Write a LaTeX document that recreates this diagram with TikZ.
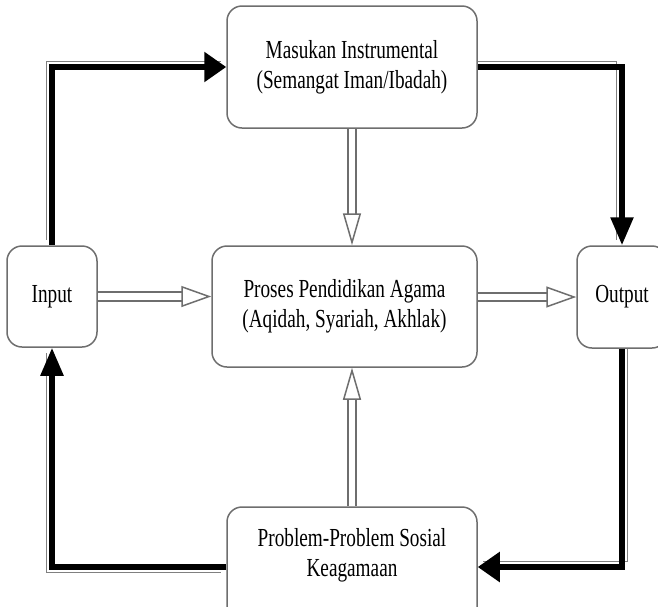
\documentclass[tikz,border=0pt]{standalone}
\usepackage{fontspec}
\newfontfamily\boxfont[FakeStretch=0.74]{Liberation Serif}
\usetikzlibrary{arrows.meta, backgrounds}
\definecolor{BoxGray}{HTML}{6E6E6E}
\tikzset{
    % Rounded stage box
    stage/.style={
        rectangle,
        rounded corners=15pt,
        draw=BoxGray,
        line width=1.5pt,
        fill=white,
        inner sep=0pt,
        align=center,
        font=\boxfont\fontsize{26}{30}\selectfont
    },
    % Hollow double arrow
    flow/.style={
        draw=BoxGray,
        line width=1.8pt,
        double=white,
        double distance=6.5pt,
        -{Triangle[fill=white, length=30pt, width=21pt, line width=1.5pt]}
    },
    flowv/.style={
        flow,
        -{Triangle[fill=white, length=32pt, width=18pt, line width=1.5pt]}
    },
    % Thick-thin feedback line
    feedback/.style={
        draw=black,
        line width=5.5pt,
        preaction={draw=gray, line width=1.2pt, arrows=-, transform canvas={shift={#1}}}
    },
    hhead/.style={-{Triangle[length=22pt, width=29pt]}},
    vhead/.style={-{Triangle[length=28pt, width=22pt]}}
}
\begin{document}
\begin{tikzpicture}[x=1pt, y=-1pt]
    \useasboundingbox (0,0) rectangle (658,606);
    \clip (0,0) rectangle (658,606);
    % Stages
    \node (masukan) [stage, minimum width=250pt, minimum height=122pt] at (352,67) {Masukan Instrumental\\(Semangat Iman/Ibadah)};
    \node (proses) [stage, minimum width=265pt, minimum height=121pt] at (344.5,306.5) {Proses Pendidikan Agama\\(Aqidah, Syariah, Akhlak)};
    \node (input) [stage, minimum width=90pt, minimum height=101pt] at (52,296.5) {Input};
    \node (output) [stage, minimum width=90pt, minimum height=102pt] at (622,297) {Output};
    \node (problem) [stage, minimum width=250pt, minimum height=120pt] at (352,567)
        {\begin{tabular}{@{}c@{}}Problem-Problem Sosial\\Keagamaan\end{tabular}\rule[-46pt]{0pt}{0pt}};

    \begin{scope}[on background layer]
        \fill[white] (0,0) rectangle (658,606);
        % Hollow arrows into and out of the process
        \draw [flow] (input.east) -- (input.east -| proses.west);
        \draw [flow] (proses.east |- output.west) -- (output.west);
        \draw [flowv] (masukan.south) -- (masukan.south |- proses.north);
        \draw [flowv] (problem.north) -- (problem.north |- proses.south);

        % Feedback loop
        \draw [feedback={(-5.5pt,5.5pt)}, hhead] (input.north) |- (masukan.west);
        \draw [feedback={(-5.5pt,5.5pt)}, vhead] (masukan.east) -| (output.north);
        \draw [feedback={(5.5pt,5.5pt)}, hhead] (output.south) |- (problem.east);
        \draw [feedback={(-5.5pt,-5.5pt)}, vhead] (problem.west) -| (input.south);
    \end{scope}
\end{tikzpicture}
\end{document}
